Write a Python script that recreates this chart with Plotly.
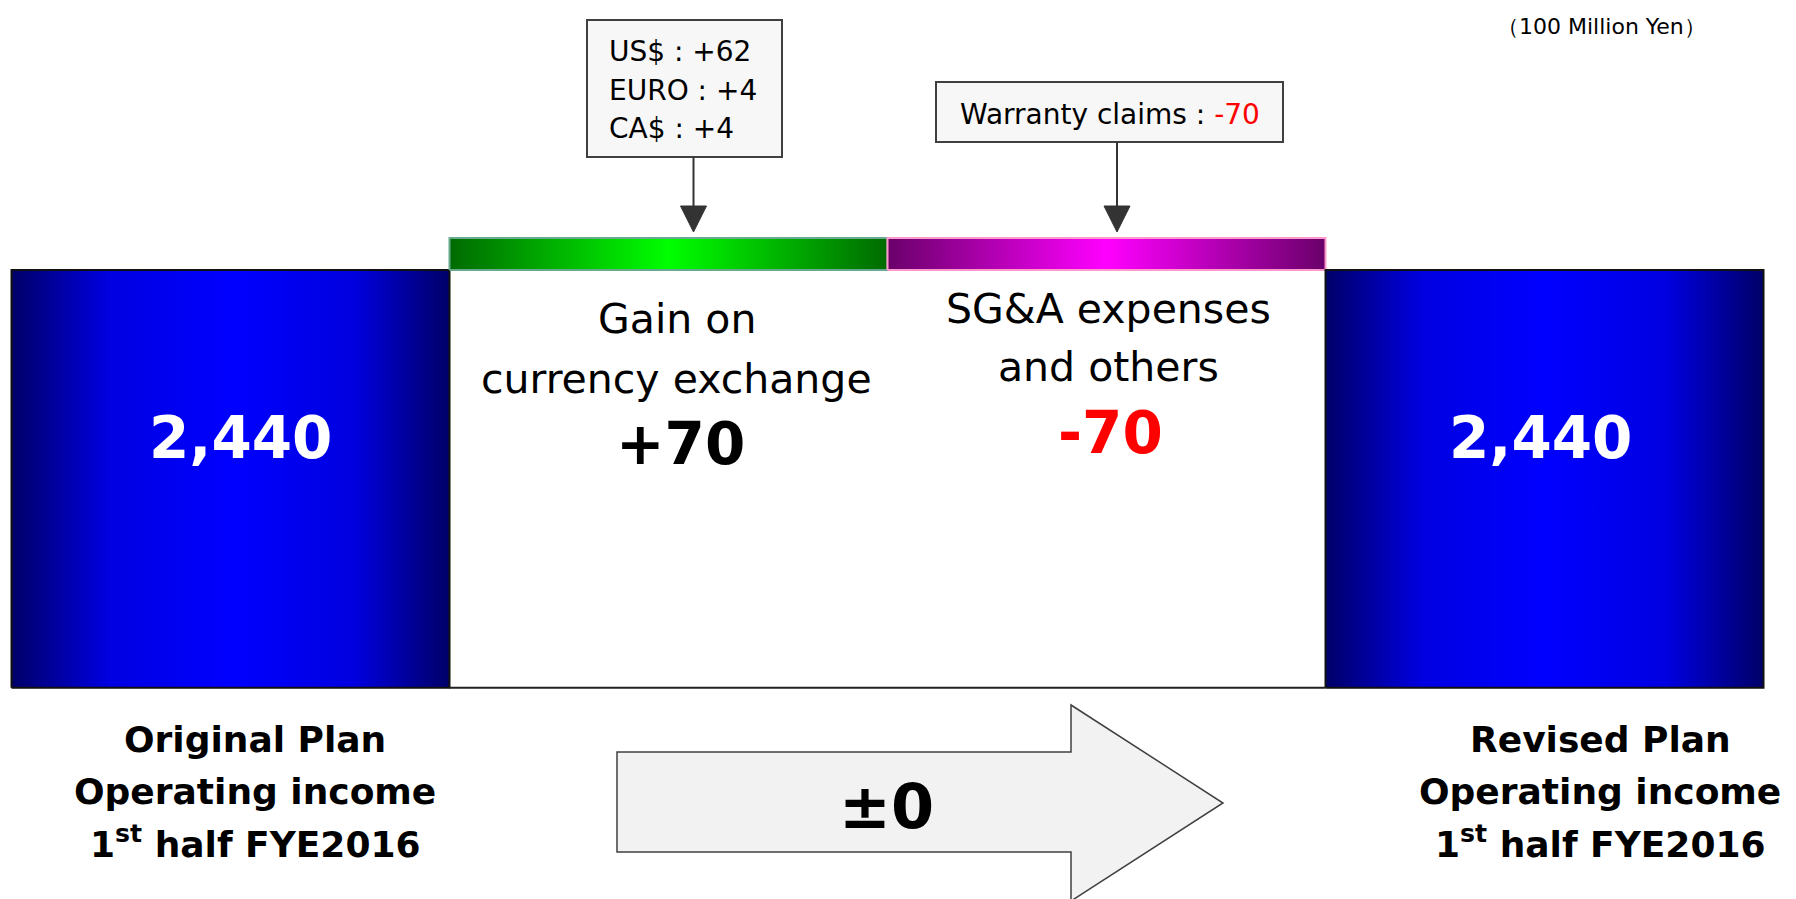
import plotly.graph_objects as go

# ---------------- data ----------------
categories = ["Original Plan", "Gain on currency exchange", "SG&A expenses and others", "Revised Plan"]
values = [2440, 70, -70, 2440]
measures = ["total", "relative", "relative", "total"]
bottom_labels = [["Original Plan", "Operating income", "1<sup>st</sup> half FYE2016"],
                 ["Revised Plan", "Operating income", "1<sup>st</sup> half FYE2016"]]
mid_labels = [["Gain on", "currency exchange"], ["SG&A expenses", "and others"]]
currency_items = ["US$", "EURO", "CA$"]
currency_values = [62, 4, 4]
warranty_label = "Warranty claims"
warranty_value = -70
unit_label = "（100 Million Yen）"
net_change_label = "±0"

# broken-axis floor (value axis does not start at zero)
AXIS_FLOOR = 1526

W, H = 1796, 899
FONT = "DejaVu Sans"


def px(x):
    return x / W


def py(y):
    return 1 - y / H


fig = go.Figure()

blue_cs = [[0, "#000068"], [0.22, "#0000E0"], [0.5, "#0000FF"], [0.78, "#0000E0"], [1, "#000068"]]
green_cs = [[0, "#006A00"], [0.5, "#00FF00"], [1, "#006A00"]]
mag_cs = [[0, "#6A006A"], [0.5, "#FF00FF"], [1, "#6A006A"]]

running = 0
for i, (v, m) in enumerate(zip(values, measures)):
    if m == "total":
        lo, hi = AXIS_FLOOR, v
        running = v
        cs, lc = blue_cs, "#111111"
    else:
        lo, hi = min(running, running + v), max(running, running + v)
        running += v
        if v >= 0:
            cs, lc = green_cs, "#66AA90"
        else:
            cs, lc = mag_cs, "#FF99CC"
    fig.add_trace(go.Scatter(
        x=[i - 0.5, i + 0.5, i + 0.5, i - 0.5, i - 0.5],
        y=[lo, lo, hi, hi, lo],
        mode="lines", fill="toself",
        fillgradient=dict(type="horizontal", colorscale=cs),
        line=dict(color=lc, width=2),
        hoverinfo="skip", showlegend=False,
    ))

# baseline across the middle
fig.add_trace(go.Scatter(
    x=[0.5, 2.5], y=[AXIS_FLOOR, AXIS_FLOOR], mode="lines",
    line=dict(color="#222222", width=2), hoverinfo="skip", showlegend=False,
))

ann = []


def add_text(x, y, text, size, color="black", xref="paper", xanchor="center", xshift=0):
    ann.append(dict(x=x, y=y, xref=xref, yref="paper", xanchor=xanchor, yanchor="middle",
                    xshift=xshift, text=text, showarrow=False,
                    font=dict(family=FONT, size=size, color=color)))


# totals inside blue bars
for i, xs in [(0, 10), (3, -4)]:
    add_text(i, py(438), f"<b>{values[i]:,}</b>", 58, "white", xref="x", xshift=xs)

# middle labels
line_y = [[319, 379], [309, 367]]
for k, i in enumerate([1, 2]):
    for j, t in enumerate(mid_labels[k]):
        add_text(i, py(line_y[k][j]), t, 41, xref="x", xshift=8 if i == 1 else 2)
add_text(1, py(444), f"<b>+{values[1]}</b>", 58, xref="x", xshift=12)
add_text(2, py(433), f"<b>{values[2]}</b>", 58, "#FF0000", xref="x", xshift=4)

# bottom labels
for lines, cx in zip(bottom_labels, [255, 1600]):
    for j, t in enumerate(lines):
        add_text(px(cx), py([739, 791, 842][j]), f"<b>{t}</b>", 36)

# unit label
add_text(px(1601), py(26), unit_label, 22)

# currency box text
for j, (c, v) in enumerate(zip(currency_items, currency_values)):
    add_text(px(607), py(52 + 38.5 * j), f"{c} : +{v}", 28, xanchor="left")

# warranty box text
add_text(px(1110), py(114),
         f"{warranty_label} : <span style='color:#FF0000'>{warranty_value}</span>", 28)

# net change
add_text(px(886), py(806), f"<b>{net_change_label}</b>", 62)

shapes = []
# callout boxes
shapes.append(dict(type="rect", xref="paper", yref="paper",
                   x0=px(587), x1=px(782), y0=py(157), y1=py(20),
                   fillcolor="#F7F7F7", line=dict(color="#404040", width=2), layer="below"))
shapes.append(dict(type="rect", xref="paper", yref="paper",
                   x0=px(936), x1=px(1283), y0=py(142), y1=py(82),
                   fillcolor="#F7F7F7", line=dict(color="#404040", width=2), layer="below"))
# callout arrows
for ax, y0 in [(693.5, 157), (1117, 142)]:
    shapes.append(dict(type="line", xref="paper", yref="paper",
                       x0=px(ax), x1=px(ax), y0=py(y0), y1=py(207),
                       line=dict(color="#333333", width=2)))
    shapes.append(dict(type="path", xref="paper", yref="paper",
                       path=f"M {px(ax-13)} {py(206)} L {px(ax+13)} {py(206)} L {px(ax)} {py(232)} Z",
                       fillcolor="#333333", line=dict(color="#333333", width=1)))
# big arrow
pts = [(617, 752), (1071, 752), (1071, 705), (1223, 803), (1071, 901), (1071, 852), (617, 852)]
path = "M " + " L ".join(f"{px(a)} {py(b)}" for a, b in pts) + " Z"
shapes.append(dict(type="path", xref="paper", yref="paper", path=path,
                   fillcolor="#F2F2F2", line=dict(color="#404040", width=1.5), layer="below"))

x_lo = -0.5 - 11.5 / 438
x_hi = -0.5 + (W - 11.5) / 438
ppu = 32 / 70
y_hi = 2440 + 270 / ppu
y_lo = 2440 - (H - 270) / ppu

fig.update_layout(
    width=W, height=H,
    margin=dict(l=0, r=0, t=0, b=0),
    paper_bgcolor="white", plot_bgcolor="white",
    showlegend=False,
    xaxis=dict(range=[x_lo, x_hi], visible=False, fixedrange=True),
    yaxis=dict(range=[y_lo, y_hi], visible=False, fixedrange=True),
    annotations=ann, shapes=shapes,
)

fig.write_html("out.html", config={"displayModeBar": False})
